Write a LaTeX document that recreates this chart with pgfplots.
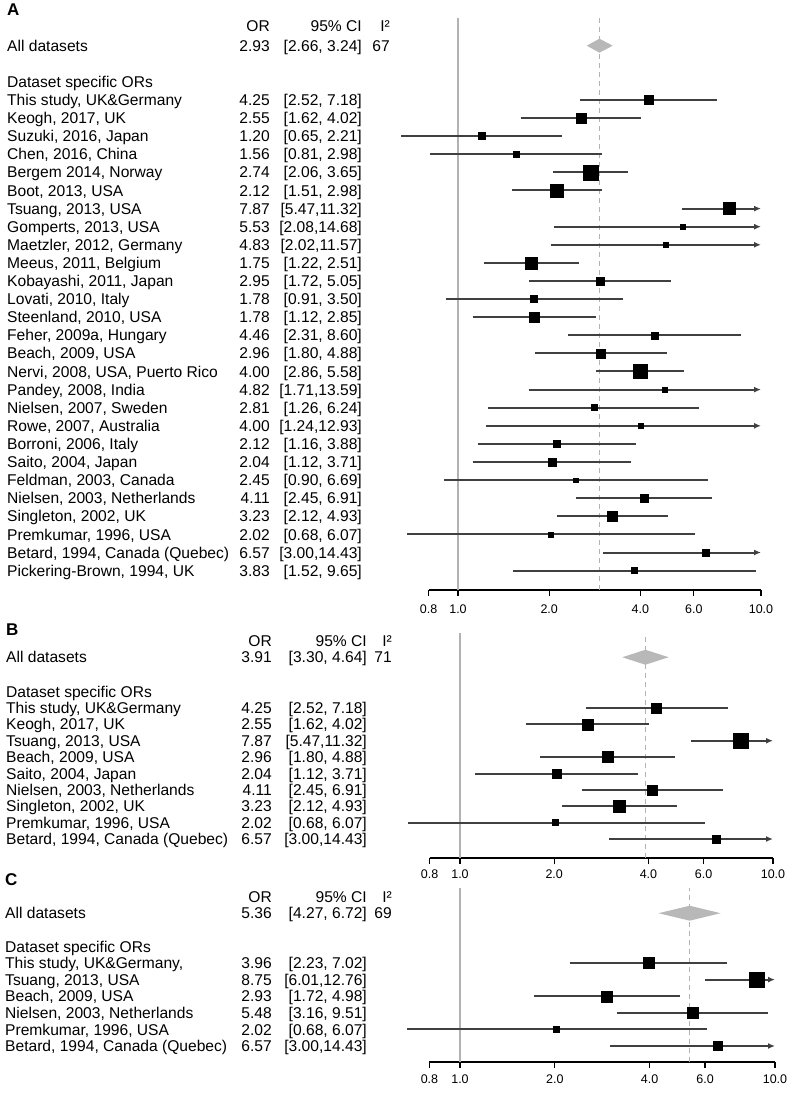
\documentclass[border=0pt]{standalone}
\usepackage{fontspec}
\setmainfont{Liberation Sans}
\usepackage{pgfplots}
\pgfplotsset{compat=1.18}
\usetikzlibrary{arrows.meta}
\definecolor{cil}{gray}{0.25}
\definecolor{refl}{gray}{0.70}
\definecolor{diam}{gray}{0.72}
\tikzset{txt/.style={inner sep=0pt}}
\pgfplotsset{
  ciline/.style={cil, line width=2pt},
  ciarr/.style={cil, line width=2pt, -{Latex[length=7pt,width=6pt]}},
  refsolid/.style={refl, line width=1.8pt},
  refdash/.style={refl, line width=1.4pt, dash pattern=on 5pt off 4pt},
}
% #1 y, #2 name, #3 OR, #4 lo, #5 hi (drawn), #6 CI text, #7 square half side, #8 line style
\newcommand\study[8]{%
  \addplot[#8] coordinates {(#4,#1) (#5,#1)};
  \addplot[only marks, mark=square*, mark size=#7pt, black] coordinates {(#3,#1)};
  \node[txt, anchor=base west] at ([xshift=\colN pt, yshift=-5.6pt]axis cs:0.8,#1) {#2};
  \node[txt, anchor=base east] at ([xshift=\colO pt, yshift=-5.6pt]axis cs:0.8,#1) {#3};
  \node[txt, anchor=base east] at ([xshift=\colC pt, yshift=-5.6pt]axis cs:0.8,#1) {#6};
}
\newcommand\hdr[1]{%
  \node[txt, anchor=base east] at ([xshift=\colO pt, yshift=-5.6pt]axis cs:0.8,#1) {OR};
  \node[txt, anchor=base east] at ([xshift=\colC pt, yshift=-5.6pt]axis cs:0.8,#1) {95\% CI};
  \node[txt, anchor=base east] at ([xshift=\colI pt, yshift=-5.6pt]axis cs:0.8,#1) {I²};
}
\newcommand\summ[4]{%
  \node[txt, anchor=base west] at ([xshift=\colN pt, yshift=-5.6pt]axis cs:0.8,#1) {All datasets};
  \node[txt, anchor=base east] at ([xshift=\colO pt, yshift=-5.6pt]axis cs:0.8,#1) {#2};
  \node[txt, anchor=base east] at ([xshift=\colC pt, yshift=-5.6pt]axis cs:0.8,#1) {#3};
  \node[txt, anchor=base east] at ([xshift=\colI pt, yshift=-5.6pt]axis cs:0.8,#1) {#4};
}
\newcommand\dsor[1]{%
  \node[txt, anchor=base west] at ([xshift=\colN pt, yshift=-5.6pt]axis cs:0.8,#1) {Dataset specific ORs};
}
\begin{document}
\fontsize{15.6}{18}\selectfont
\begin{tikzpicture}[x=1pt,y=1pt]
\path (0,0) rectangle (790,-1094);
\node[txt, anchor=west, font=\fontsize{17}{20}\selectfont\bfseries] at (7,-10) {A};
\node[txt, anchor=west, font=\fontsize{17}{20}\selectfont\bfseries] at (6,-630) {B};
\node[txt, anchor=west, font=\fontsize{17}{20}\selectfont\bfseries] at (5,-880) {C};

% ---------------- Panel A ----------------
\def\colN{-421.64}\def\colO{-158.64}\def\colC{-66.64}\def\colI{-38.64}
\begin{axis}[xmode=log, scale only axis, anchor=north west,
    at={(428.64pt,-18pt)}, width=332.36pt, height=572pt,
    xmin=0.8, xmax=10, ymin=-27.072, ymax=4.530,
    axis x line*=bottom, axis y line=none, ytick=\empty,
    xtick={0.8,1,2,4,6,10}, xticklabels={0.8,1.0,2.0,4.0,6.0,10.0},
    minor xtick={}, clip=false, tick align=outside, major tick length=6pt,
    every tick/.append style={black, line width=1.3pt},
    axis line style={black, line width=1.3pt},
    xticklabel style={font=\fontsize{12.5}{14}\selectfont, yshift=-3pt}]
\addplot[refsolid] coordinates {(1,-27.072) (1,4.530)};
\addplot[refdash] coordinates {(2.93,-27.072) (2.93,4.530)};
\addplot[fill=diam, draw=none] coordinates {(2.66,3) (2.93,3.387) (3.24,3) (2.93,2.613) (2.66,3)};
\hdr{4.1}
\summ{3}{2.93}{[2.66, 3.24]}{67}
\dsor{1}
\study{0}{This study, UK\&Germany}{4.25}{2.52}{7.18}{[2.52, 7.18]}{4.5}{ciline}
\study{-1}{Keogh, 2017, UK}{2.55}{1.62}{4.02}{[1.62, 4.02]}{5}{ciline}
\study{-2}{Suzuki, 2016, Japan}{1.20}{0.65}{2.21}{[0.65, 2.21]}{3.5}{ciline}
\study{-3}{Chen, 2016, China}{1.56}{0.81}{2.98}{[0.81, 2.98]}{3}{ciline}
\study{-4}{Bergem 2014, Norway}{2.74}{2.06}{3.65}{[2.06, 3.65]}{7.5}{ciline}
\study{-5}{Boot, 2013, USA}{2.12}{1.51}{2.98}{[1.51, 2.98]}{6.5}{ciline}
\study{-6}{Tsuang, 2013, USA}{7.87}{5.47}{10}{[5.47,11.32]}{6}{ciarr}
\study{-7}{Gomperts, 2013, USA}{5.53}{2.08}{10}{[2.08,14.68]}{2.5}{ciarr}
\study{-8}{Maetzler, 2012, Germany}{4.83}{2.02}{10}{[2.02,11.57]}{2.5}{ciarr}
\study{-9}{Meeus, 2011, Belgium}{1.75}{1.22}{2.51}{[1.22, 2.51]}{6}{ciline}
\study{-10}{Kobayashi, 2011, Japan}{2.95}{1.72}{5.05}{[1.72, 5.05]}{4}{ciline}
\study{-11}{Lovati, 2010, Italy}{1.78}{0.91}{3.50}{[0.91, 3.50]}{3.5}{ciline}
\study{-12}{Steenland, 2010, USA}{1.78}{1.12}{2.85}{[1.12, 2.85]}{5}{ciline}
\study{-13}{Feher, 2009a, Hungary}{4.46}{2.31}{8.60}{[2.31, 8.60]}{3.5}{ciline}
\study{-14}{Beach, 2009, USA}{2.96}{1.80}{4.88}{[1.80, 4.88]}{4.5}{ciline}
\study{-15}{Nervi, 2008, USA, Puerto Rico}{4.00}{2.86}{5.58}{[2.86, 5.58]}{7}{ciline}
\study{-16}{Pandey, 2008, India}{4.82}{1.71}{10}{[1.71,13.59]}{2.5}{ciarr}
\study{-17}{Nielsen, 2007, Sweden}{2.81}{1.26}{6.24}{[1.26, 6.24]}{3}{ciline}
\study{-18}{Rowe, 2007, Australia}{4.00}{1.24}{10}{[1.24,12.93]}{2.3}{ciarr}
\study{-19}{Borroni, 2006, Italy}{2.12}{1.16}{3.88}{[1.16, 3.88]}{3.5}{ciline}
\study{-20}{Saito, 2004, Japan}{2.04}{1.12}{3.71}{[1.12, 3.71]}{4}{ciline}
\study{-21}{Feldman, 2003, Canada}{2.45}{0.90}{6.69}{[0.90, 6.69]}{2.3}{ciline}
\study{-22}{Nielsen, 2003, Netherlands}{4.11}{2.45}{6.91}{[2.45, 6.91]}{4}{ciline}
\study{-23}{Singleton, 2002, UK}{3.23}{2.12}{4.93}{[2.12, 4.93]}{5}{ciline}
\study{-24}{Premkumar, 1996, USA}{2.02}{0.68}{6.07}{[0.68, 6.07]}{2.5}{ciline}
\study{-25}{Betard, 1994, Canada (Quebec)}{6.57}{3.00}{10}{[3.00,14.43]}{3.5}{ciarr}
\study{-26}{Pickering-Brown, 1994, UK}{3.83}{1.52}{9.65}{[1.52, 9.65]}{3}{ciline}
\end{axis}

% ---------------- Panel B ----------------
\def\colN{-423.67}\def\colO{-157.67}\def\colC{-62.67}\def\colI{-37.67}
\begin{axis}[xmode=log, scale only axis, anchor=north west,
    at={(429.67pt,-633pt)}, width=343.33pt, height=225pt,
    xmin=0.8, xmax=10, ymin=-9.160, ymax=4.580,
    axis x line*=bottom, axis y line=none, ytick=\empty,
    xtick={0.8,1,2,4,6,10}, xticklabels={0.8,1.0,2.0,4.0,6.0,10.0},
    minor xtick={}, clip=false, tick align=outside, major tick length=6pt,
    every tick/.append style={black, line width=1.3pt},
    axis line style={black, line width=1.3pt},
    xticklabel style={font=\fontsize{12.5}{14}\selectfont}]
\addplot[refsolid] coordinates {(1,-9.160) (1,4.580)};
\addplot[refdash] coordinates {(3.91,-9.160) (3.91,4.580)};
\addplot[fill=diam, draw=none] coordinates {(3.30,3.1) (3.91,3.558) (4.64,3.1) (3.91,2.642) (3.30,3.1)};
\hdr{4.1}
\summ{3.1}{3.91}{[3.30, 4.64]}{71}
\dsor{1}
\study{0}{This study, UK\&Germany}{4.25}{2.52}{7.18}{[2.52, 7.18]}{5}{ciline}
\study{-1}{Keogh, 2017, UK}{2.55}{1.62}{4.02}{[1.62, 4.02]}{5.5}{ciline}
\study{-2}{Tsuang, 2013, USA}{7.87}{5.47}{10}{[5.47,11.32]}{7.5}{ciarr}
\study{-3}{Beach, 2009, USA}{2.96}{1.80}{4.88}{[1.80, 4.88]}{5.5}{ciline}
\study{-4}{Saito, 2004, Japan}{2.04}{1.12}{3.71}{[1.12, 3.71]}{4.5}{ciline}
\study{-5}{Nielsen, 2003, Netherlands}{4.11}{2.45}{6.91}{[2.45, 6.91]}{5}{ciline}
\study{-6}{Singleton, 2002, UK}{3.23}{2.12}{4.93}{[2.12, 4.93]}{6}{ciline}
\study{-7}{Premkumar, 1996, USA}{2.02}{0.68}{6.07}{[0.68, 6.07]}{3}{ciline}
\study{-8}{Betard, 1994, Canada (Quebec)}{6.57}{3.00}{10}{[3.00,14.43]}{4}{ciarr}
\end{axis}

% ---------------- Panel C ----------------
\def\colN{-424.47}\def\colO{-157.47}\def\colC{-62.47}\def\colI{-37.47}
\begin{axis}[xmode=log, scale only axis, anchor=north west,
    at={(429.47pt,-888pt)}, width=345.53pt, height=174pt,
    xmin=0.8, xmax=10, ymin=-5.964, ymax=4.518,
    axis x line*=bottom, axis y line=none, ytick=\empty,
    xtick={0.8,1,2,4,6,10}, xticklabels={0.8,1.0,2.0,4.0,6.0,10.0},
    minor xtick={}, clip=false, tick align=outside, major tick length=6pt,
    every tick/.append style={black, line width=1.3pt},
    axis line style={black, line width=1.3pt},
    xticklabel style={font=\fontsize{12.5}{14}\selectfont, yshift=-1pt}]
\addplot[refsolid] coordinates {(1,-5.964) (1,4.518)};
\addplot[refdash] coordinates {(5.36,-5.964) (5.36,4.518)};
\addplot[fill=diam, draw=none] coordinates {(4.27,3) (5.36,3.45) (6.72,3) (5.36,2.55) (4.27,3)};
\hdr{4.0}
\summ{3}{5.36}{[4.27, 6.72]}{69}
\dsor{1}
\study{0}{This study, UK\&Germany,}{3.96}{2.23}{7.02}{[2.23, 7.02]}{5.5}{ciline}
\study{-1}{Tsuang, 2013, USA}{8.75}{6.01}{10}{[6.01,12.76]}{7.5}{ciarr}
\study{-2}{Beach, 2009, USA}{2.93}{1.72}{4.98}{[1.72, 4.98]}{5.5}{ciline}
\study{-3}{Nielsen, 2003, Netherlands}{5.48}{3.16}{9.51}{[3.16, 9.51]}{5.5}{ciline}
\study{-4}{Premkumar, 1996, USA}{2.02}{0.68}{6.07}{[0.68, 6.07]}{3}{ciline}
\study{-5}{Betard, 1994, Canada (Quebec)}{6.57}{3.00}{10}{[3.00,14.43]}{4.5}{ciarr}
\end{axis}
\end{tikzpicture}
\end{document}
